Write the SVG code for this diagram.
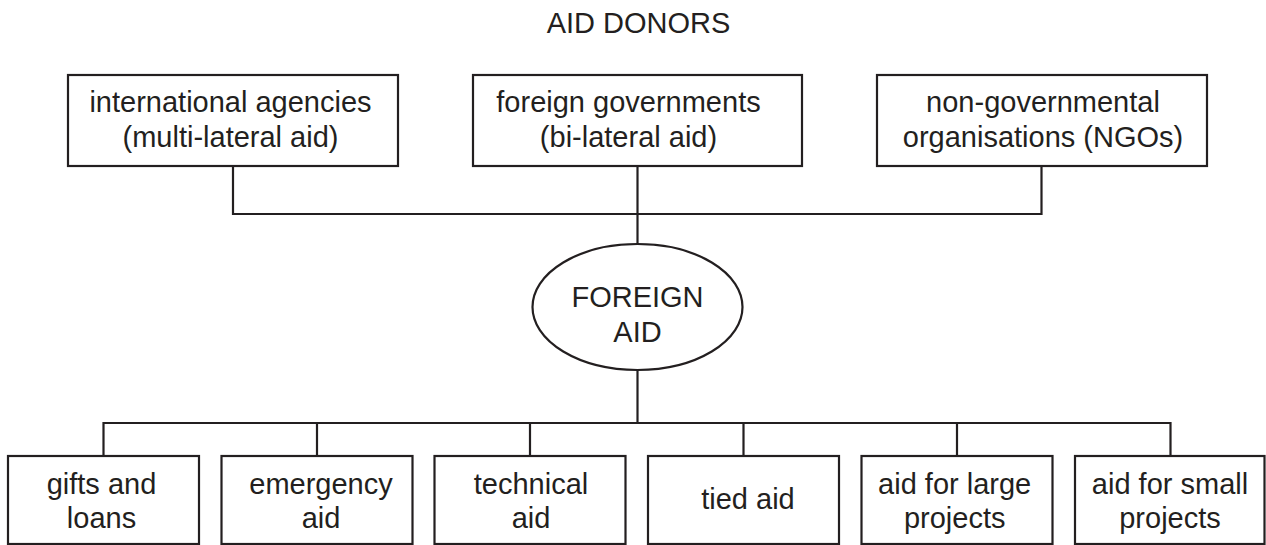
<svg xmlns="http://www.w3.org/2000/svg" width="1266" height="545" viewBox="0 0 1266 545">
<style>
.box{fill:#fff;stroke:#231f20;stroke-width:2.2}
.ln{fill:none;stroke:#231f20;stroke-width:2.2}
text{font-family:"Liberation Sans",Arial,sans-serif;font-size:29px;fill:#231f20;text-anchor:middle}
</style>
<rect width="1266" height="545" fill="#fff"/>
<g id="title"><text x="638.5" y="32.5">AID DONORS</text></g>
<g id="connectors">
<path class="ln" d="M233,166 V214 H1041.5 V166"/>
<path class="ln" d="M637.5,166 V244"/>
<path class="ln" d="M637.5,370 V423"/>
<path class="ln" d="M103.5,456 V423 H1170.5 V456"/>
<path class="ln" d="M317,423 V456 M530,423 V456 M743.5,423 V456 M957,423 V456"/>
</g>
<g id="n-international">
<rect class="box" x="68" y="75" width="330" height="91"/>
<text x="230.5" y="112">international agencies</text>
<text x="230.5" y="146.5">(multi-lateral aid)</text>
</g>
<g id="n-foreign-gov">
<rect class="box" x="473" y="75" width="329" height="91"/>
<text x="628.5" y="112">foreign governments</text>
<text x="628.5" y="146.5">(bi-lateral aid)</text>
</g>
<g id="n-ngo">
<rect class="box" x="877" y="75" width="330" height="91"/>
<text x="1043" y="112">non-governmental</text>
<text x="1043" y="146.5">organisations (NGOs)</text>
</g>
<g id="n-foreign-aid">
<ellipse class="box" cx="637.5" cy="307" rx="105" ry="63"/>
<text x="637.5" y="307.3">FOREIGN</text>
<text x="637.5" y="341.7">AID</text>
</g>
<g id="n-gifts">
<rect class="box" x="8" y="456" width="191" height="88"/>
<text x="101.5" y="493.5">gifts and</text>
<text x="101.5" y="527.5">loans</text>
</g>
<g id="n-emergency">
<rect class="box" x="221.5" y="456" width="191" height="88"/>
<text x="321" y="493.5">emergency</text>
<text x="321" y="527.5">aid</text>
</g>
<g id="n-technical">
<rect class="box" x="434.5" y="456" width="191" height="88"/>
<text x="531" y="493.5">technical</text>
<text x="531" y="527.5">aid</text>
</g>
<g id="n-tied">
<rect class="box" x="648" y="456" width="191" height="88"/>
<text x="748" y="508.5">tied aid</text>
</g>
<g id="n-large">
<rect class="box" x="861.5" y="456" width="191" height="88"/>
<text x="954.7" y="493.5">aid for large</text>
<text x="954.7" y="527.5">projects</text>
</g>
<g id="n-small">
<rect class="box" x="1075" y="456" width="189.5" height="88"/>
<text x="1170" y="493.5">aid for small</text>
<text x="1170" y="527.5">projects</text>
</g>
</svg>
